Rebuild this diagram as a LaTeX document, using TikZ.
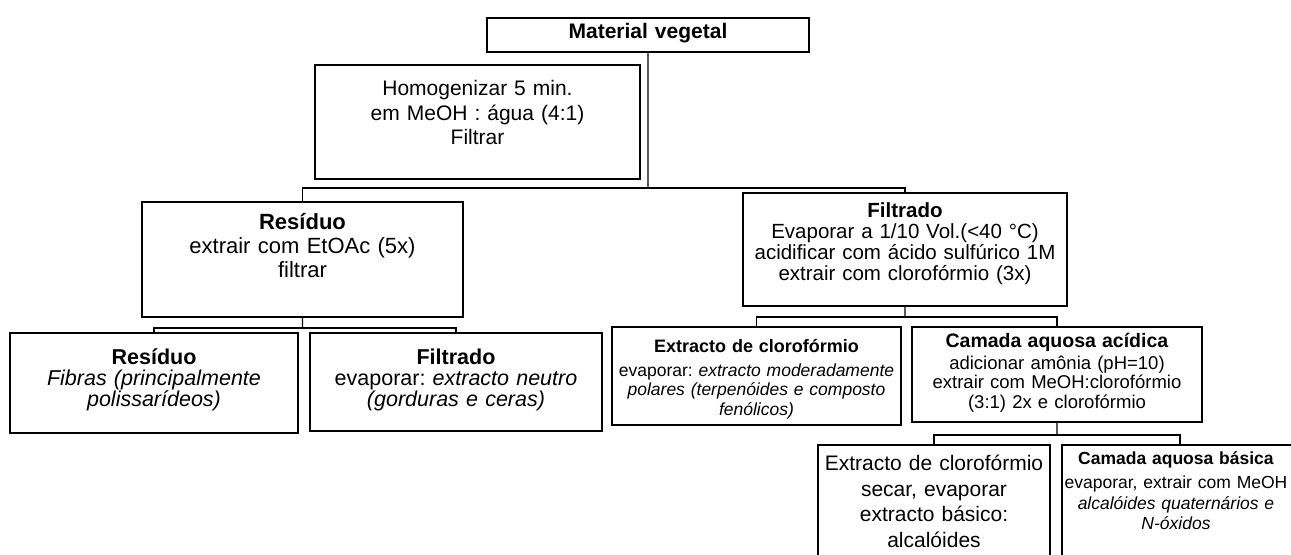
\documentclass[tikz,border=0pt]{standalone}
\usepackage{fontspec}
\setmainfont{Liberation Sans}
\newcommand\fs[2]{\fontsize{#1bp}{#2bp}\selectfont}
\tikzset{
  bx/.style={draw, line width=1.2bp, inner sep=0pt, outer sep=0pt, anchor=north west},
  tx/.style={inner sep=0pt, align=center, anchor=base},
  ln/.style={line width=1.2bp},
}
\begin{document}
\frenchspacing
\begin{tikzpicture}[x=1bp, y=-1bp]
\clip (0,0) rectangle (1291,555);
\fill[white] (0,0) rectangle (1291,555);
% boxes
\node[bx, minimum width=322bp, minimum height=34bp] (mv) at (487,18) {};
\node[bx, minimum width=325bp, minimum height=114bp] (hom) at (315,65) {};
\node[bx, minimum width=321bp, minimum height=115bp] (resm) at (142,202) {};
\node[bx, minimum width=324bp, minimum height=113bp] (film) at (743,193) {};
\node[bx, minimum width=288bp, minimum height=100bp] (res3) at (10,333) {};
\node[bx, minimum width=292bp, minimum height=98bp] (fil3) at (310,333) {};
\node[bx, minimum width=289bp, minimum height=98bp] (ext3) at (612,327) {};
\node[bx, minimum width=290bp, minimum height=95bp] (cam3) at (912,327) {};
\node[bx, minimum width=232bp, minimum height=120bp] (ext4) at (818,445) {};
\node[bx, minimum width=236bp, minimum height=115bp] (cam4) at (1062,445) {};
% texts
\node[tx, text width=322bp, font=\fs{21}{24}\bfseries] (mvt) at (648,39) {Material vegetal};
\node[tx, text width=325bp, font=\fs{21}{24.5}] (homt) at (477.5,96) {Homogenizar 5 min.\\em MeOH : água (4:1)\\Filtrar};
\node[tx, text width=321bp, font=\fs{22}{24}] (resmt) at (302.5,230) {\textbf{Resíduo}\\extrair com EtOAc (5x)\\filtrar};
\node[tx, text width=324bp, font=\fs{20.5}{21}] (filmt) at (905,217.5) {\textbf{Filtrado}\\Evaporar a 1/10 Vol.(<40 °C)\\acidificar com ácido sulfúrico 1M\\extrair com clorofórmio (3x)};
\node[tx, text width=288bp, font=\fs{21.5}{21}] (res3t) at (154,365) {\textbf{Resíduo}\\\textit{Fibras (principalmente}\\\textit{polissarídeos)}};
\node[tx, text width=292bp, font=\fs{21.5}{21}] (fil3t) at (456,365) {\textbf{Filtrado}\\evaporar: \textit{extracto neutro}\\\textit{(gorduras e ceras)}};
\node[tx, text width=289bp, font=\fs{17.5}{19.5}] (ext3t) at (756.5,353) {{\fs{18}{19.5}\textbf{Extracto de clorofórmio}}\\[4bp]evaporar: \textit{extracto moderadamente}\\\textit{polares (terpenóides e composto}\\\textit{fenólicos)}};
\node[tx, text width=290bp, font=\fs{18.5}{19.5}] (cam3t) at (1057,348) {{\fs{19.5}{19.5}\textbf{Camada aquosa acídica}}\\[2bp]adicionar amônia (pH=10)\\extrair com MeOH:clorofórmio\\(3:1) 2x e clorofórmio};
\node[tx, text width=226bp, font=\fs{17.5}{20.5}] (cam4t) at (1176,464) {{\fs{17.5}{20.5}\textbf{Camada aquosa básica}}\\[4bp]evaporar, extrair com MeOH\\\textit{alcalóides quaternários e}\\\textit{N-óxidos}};
\node[tx, text width=232bp, font=\fs{21}{25.5}] (ext4t) at (934,470.5) {Extracto de clorofórmio\\secar, evaporar\\extracto básico:\\alcalóides};
% connectors
\coordinate (j1) at (648,188);
\coordinate (j2) at (302.5,328);
\coordinate (j3) at (905,317);
\coordinate (j4) at (1057,435);
\draw[ln] (mv.south) -- (j1);
\draw[ln] (resm.north) |- (j1) -| (film.north);
\draw[ln] (resm.south) -- (j2);
\draw[ln] (res3.north) |- (j2) -| (fil3.north);
\draw[ln] (film.south) -- (j3);
\draw[ln] (ext3.north) |- (j3) -| (cam3.north);
\draw[ln] (cam3.south) -- (j4);
\draw[ln] (ext4.north) |- (j4) -| (cam4.north);
\end{tikzpicture}
\end{document}
